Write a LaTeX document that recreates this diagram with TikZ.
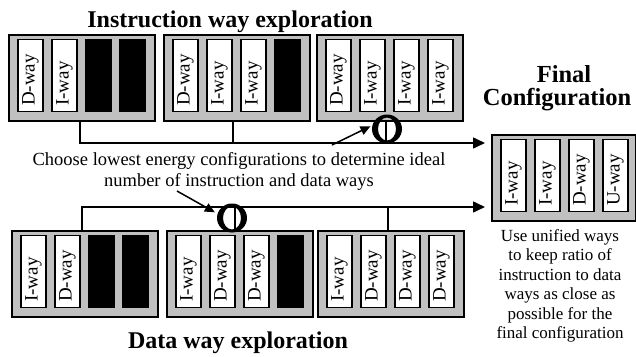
\documentclass[tikz,border=0pt]{standalone}
\usepackage{fontspec}
\setmainfont{Liberation Serif}
\usetikzlibrary{arrows.meta,shapes.geometric,calc}
\definecolor{panelgray}{RGB}{192,192,192}

% A grey cache panel holding four ways; #5 is a list of label/fill pairs
\newcommand{\waypanel}[5]{%
  \node[panel, minimum width=#4pt, anchor=north west] (#1) at (#2,#3) {};
  \foreach \lab/\fillc [count=\i] in {#5} {
    \node[wayslot, fill=\fillc] (#1-\i) at ($(#1.west)+(22.5+34*\i-34,-2)$) {\lab};
  }%
}

% A bold ring (thick at the sides, thin at top and bottom) marking a choice
\newcommand{\choicering}[1]{%
  \fill[even odd rule] (#1.center) ellipse [x radius=15, y radius=14.5]
                       (#1.center) ellipse [x radius=9, y radius=11.5];
}

\begin{document}
\begin{tikzpicture}[x=1pt,y=-1pt,
  panel/.style={draw, fill=panelgray, line width=1.6pt, minimum height=86pt, inner sep=0pt},
  wayslot/.style={draw, line width=1.3pt, rotate=90, minimum width=72pt, minimum height=25pt,
    inner xsep=6pt, inner ysep=0pt, text width=60pt, align=left,
    font=\fontsize{19}{19}\selectfont},
  bus/.style={line width=1.5pt},
  busarrow/.style={bus, -{Triangle[length=12pt,width=11pt]}, shorten >=6pt},
  ringframe/.style={ellipse, inner sep=0pt, minimum width=30pt, minimum height=29pt},
  pointer/.style={line width=1.5pt, -{Triangle[length=10pt,width=9pt]}},
  title/.style={font=\bfseries\fontsize{24}{21}\selectfont, inner sep=0pt},
  note/.style={inner sep=0pt, align=center}
]
\useasboundingbox (0,0) rectangle (636,356);

% instruction way exploration
\waypanel{t1}{8}{34}{146}{D-way/white, I-way/white, /black, /black}
\waypanel{t2}{163}{34}{146}{D-way/white, I-way/white, I-way/white, /black}
\waypanel{t3}{316}{34}{146}{D-way/white, I-way/white, I-way/white, I-way/white}

% data way exploration
\waypanel{d1}{11}{230}{146}{I-way/white, D-way/white, /black, /black}
\waypanel{d2}{166}{230}{146}{I-way/white, D-way/white, D-way/white, /black}
\waypanel{d3}{317}{230}{146}{I-way/white, D-way/white, D-way/white, D-way/white}

% final configuration
\waypanel{f}{491}{134}{144}{I-way/white, I-way/white, D-way/white, U-way/white}

% titles and notes
\node[title, anchor=base] (ttop) at (230,27) {Instruction way exploration};
\node[title, anchor=base] (tbot) at (238,348) {Data way exploration};
\node[title, align=center, anchor=north,
      font=\bfseries\fontsize{24.5}{23.5}\selectfont] (tfin) at (557,65)
  {\hspace*{14pt}Final\\Configuration};
\node[note, anchor=north, font=\fontsize{18.5}{21}\selectfont] (choose) at (239,152)
  {Choose lowest energy configurations to determine ideal\\number of instruction and data ways};
\node[note, anchor=north, font=\fontsize{17}{19.5}\selectfont] (unified) at (560,229)
  {Use unified ways\\to keep ratio of\\instruction to data\\ways as close as\\possible for the\\final configuration};

% collecting buses
\coordinate (tbus) at (79,143);
\coordinate (dbus) at (81,207);
\draw[busarrow] ([xshift=-2pt]t1.south) |- (f.west |- tbus);
\draw[bus] ([xshift=-4pt]t2.south) -- ([xshift=-4pt]t2.south |- tbus);
\draw[bus] ([xshift=-4pt]t3.south) -- ([xshift=-4pt]t3.south |- tbus);
\draw[busarrow] ([xshift=-3pt]d1.north) |- (f.west |- dbus);
\draw[bus] ([xshift=-5pt]d2.north) -- ([xshift=-5pt]d2.north |- dbus);
\draw[bus] ([xshift=-3pt]d3.north) -- ([xshift=-3pt]d3.north |- dbus);

% chosen configurations
\node[ringframe] (tr) at (387,129) {};
\node[ringframe, minimum width=32pt, minimum height=30pt] (dr) at (232,218) {};
\choicering{tr}
\choicering{dr}
\coordinate (pa) at (332,145);
\coordinate (pb) at (177,191);
\draw[pointer, shorten >=2pt] (pa) -- (tr.166);
\draw[pointer, shorten >=2pt] (pb) -- (dr.163);
\end{tikzpicture}
\end{document}
